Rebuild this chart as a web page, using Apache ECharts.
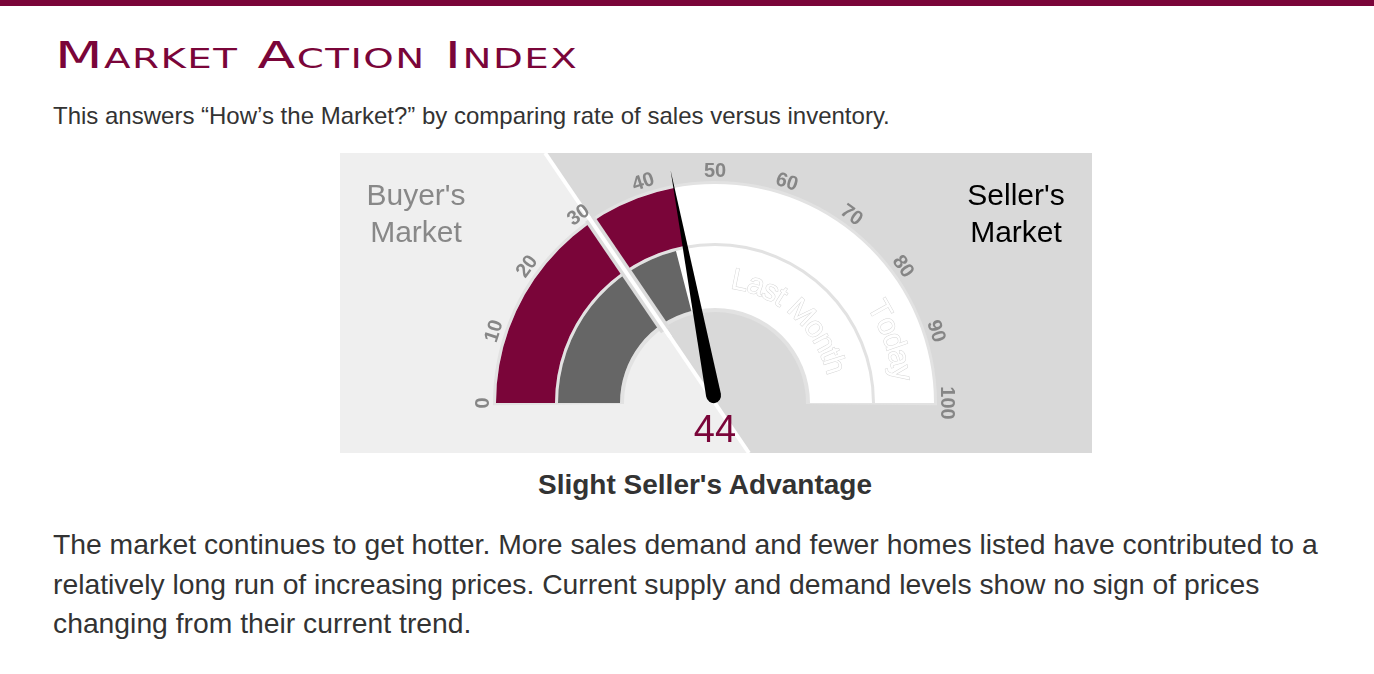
<!DOCTYPE html>
<html lang="en">
<head>
<meta charset="utf-8">
<title>Market Action Index</title>
<script src="https://cdn.jsdelivr.net/npm/echarts@6/dist/echarts.min.js"></script>
<style>
    body {
        margin: 0;
        background: #fff;
        font-family: "Liberation Sans", Arial, sans-serif;
        color: #333;
    }
    #topbar {
        position: absolute;
        left: 0; top: 0;
        width: 1374px; height: 6px;
        background: #7a0539;
    }
    #title {
        position: absolute;
        left: 55px; top: 34px;
        margin: 0;
        font-family: "DejaVu Sans", sans-serif;
        font-weight: normal;
        font-variant: small-caps;
        font-size: 37px;
        letter-spacing: 1px;
        color: #7a0539;
        white-space: nowrap;
        transform: scaleX(1.49);
        transform-origin: left top;
    }
    #intro {
        position: absolute;
        left: 53px; top: 102px;
        margin: 0;
        font-size: 24px;
        white-space: nowrap;
    }
    #chart {
        position: absolute;
        left: 340px; top: 153px;
        width: 752px; height: 300px;
    }
    #verdict {
        position: absolute;
        left: 340px; top: 469px;
        width: 730px;
        margin: 0;
        text-align: center;
        font-weight: bold;
        font-size: 28px;
        color: #333;
    }
    #summary {
        position: absolute;
        left: 53px; top: 525px;
        margin: 0;
        font-size: 28.3px;
        line-height: 39.5px;
        white-space: nowrap;
    }
</style>
</head>
<body>

<div id="topbar"></div>
<h2 id="title">Market Action Index</h2>
<p id="intro">This answers “How’s the Market?” by comparing rate of sales versus inventory.</p>

<div id="chart"></div>

<p id="verdict">Slight Seller's Advantage</p>
<p id="summary">The market continues to get hotter. More sales demand and fewer homes listed have contributed to a<br>relatively long run of increasing prices. Current supply and demand levels show no sign of prices<br>changing from their current trend.</p>

<script>
    // values
    var todayValue = [44];
    var lastMonthValue = [42];
    var splitValue = 31;          // buyer / seller boundary
    var axisMin = 0;
    var axisMax = 100;
    var sideLabels = ["Buyer's\nMarket", "Seller's\nMarket"];
    var ringLabels = ['Last Month', 'Today'];

    var maroon = '#7a0539';
    var W = 752, H = 300;
    var cx = 375, cy = 250;

    var myChart = echarts.init(document.getElementById('chart'));

    // angle (radians, math convention) of a value on the half circle
    function valueAngle(v) {
        return Math.PI * (1 - (v - axisMin) / (axisMax - axisMin));
    }

    // the boundary line goes through the centre
    var a = valueAngle(splitValue);
    var dirX = Math.cos(a), dirY = -Math.sin(a);
    function xAtY(y) {
        return cx + (y - cy) * dirX / dirY;
    }
    var topX = xAtY(0), botX = xAtY(H);

    var measureCtx = document.createElement('canvas').getContext('2d');

    // letters laid along an arc, reading clockwise
    function arcText(str, R, midDeg, font) {
        measureCtx.font = font;
        var widths = [], total = 0;
        for (var i = 0; i < str.length; i++) {
            var w = measureCtx.measureText(str[i]).width;
            widths.push(w);
            total += w;
        }
        var start = midDeg * Math.PI / 180 + (total / 2) / R;
        var acc = 0, out = [];
        for (var j = 0; j < str.length; j++) {
            var t = start - (acc + widths[j] / 2) / R;
            acc += widths[j];
            if (str[j] === ' ') continue;
            out.push({
                type: 'text',
                x: cx + R * Math.cos(t),
                y: cy - R * Math.sin(t),
                rotation: t - Math.PI / 2,
                z: 3,
                silent: true,
                style: {
                    text: str[j],
                    font: font,
                    fill: '#ffffff',
                    stroke: '#d6d6d6',
                    lineWidth: 1,
                    align: 'center',
                    verticalAlign: 'middle'
                }
            });
        }
        return out;
    }

    var graphics = [
        {
            type: 'polygon', z: 0, silent: true,
            shape: { points: [[0, 0], [topX, 0], [botX, H], [0, H]] },
            style: { fill: '#efefef' }
        },
        {
            type: 'polygon', z: 0, silent: true,
            shape: { points: [[topX, 0], [W, 0], [W, H], [botX, H]] },
            style: { fill: '#d9d9d9' }
        },
        {
            type: 'line', z: 1, silent: true,
            shape: { x1: topX, y1: 0, x2: botX, y2: H },
            style: { stroke: '#ffffff', lineWidth: 4 }
        },
        {
            type: 'line', z: 3, silent: true,
            shape: {
                x1: cx + 88 * dirX, y1: cy + 88 * dirY,
                x2: cx + 223 * dirX, y2: cy + 223 * dirY
            },
            style: { stroke: '#dcdcdc', lineWidth: 11 }
        },
        {
            type: 'line', z: 3, silent: true,
            shape: {
                x1: cx + 80 * dirX, y1: cy + 80 * dirY,
                x2: cx + 230 * dirX, y2: cy + 230 * dirY
            },
            style: { stroke: '#ffffff', lineWidth: 4 }
        },
        {
            type: 'text', z: 3, silent: true,
            x: 76, y: 62,
            style: {
                text: sideLabels[0], font: '30px "Liberation Sans", Arial',
                fill: '#888888', align: 'center', verticalAlign: 'middle', lineHeight: 37
            }
        },
        {
            type: 'text', z: 3, silent: true,
            x: 676, y: 62,
            style: {
                text: sideLabels[1], font: '30px "Liberation Sans", Arial',
                fill: '#000000', align: 'center', verticalAlign: 'middle', lineHeight: 37
            }
        }
    ];
    graphics = graphics.concat(arcText(ringLabels[0], 124, 48, '30px "Liberation Sans", Arial'));
    graphics = graphics.concat(arcText(ringLabels[1], 188, 19.5, '30px "Liberation Sans", Arial'));

    var hidden = {
        axisTick: { show: false },
        splitLine: { show: false, length: 0, distance: 0 },
        axisLabel: { show: false },
        pointer: { show: false },
        anchor: { show: false },
        title: { show: false },
        detail: { show: false }
    };

    function gauge(extra) {
        return Object.assign({
            type: 'gauge',
            center: [cx, cy],
            startAngle: 180,
            endAngle: 0,
            min: axisMin,
            max: axisMax,
            splitNumber: 10,
            animation: false
        }, hidden, extra);
    }

    var option = {
        graphic: { elements: graphics },
        series: [
            // pale rim round both rings
            gauge({
                z: 2,
                radius: 222,
                startAngle: 180.6,
                endAngle: -0.6,
                axisLine: { lineStyle: { width: 131, color: [[1, '#e2e2e2']] } },
                data: [{ value: 0 }]
            }),
            // today ring
            gauge({
                z: 2,
                radius: 219,
                axisLine: { lineStyle: { width: 59, color: [[1, '#ffffff']] } },
                progress: { show: true, width: 59, itemStyle: { color: maroon } },
                data: todayValue.map(function (v) { return { value: v }; })
            }),
            // last month ring
            gauge({
                z: 2,
                radius: 157,
                axisLine: { lineStyle: { width: 62, color: [[1, '#ffffff']] } },
                progress: { show: true, width: 62, itemStyle: { color: '#666666' } },
                data: lastMonthValue.map(function (v) { return { value: v }; })
            }),
            // tick labels
            gauge({
                z: 4,
                radius: 219,
                startAngle: 180.0001,
                axisLine: { show: false },
                axisLabel: {
                    show: true,
                    distance: -13,
                    rotate: 'tangential',
                    color: '#868686',
                    fontSize: 20,
                    fontWeight: 'bold',
                    fontFamily: '"Liberation Sans", Arial'
                },
                data: [{ value: 0 }]
            }),
            // needle and value
            gauge({
                z: 5,
                radius: 219,
                axisLine: { show: false },
                pointer: {
                    show: true,
                    icon: 'path://M7,0 L14,200 A7,7 0 0 1 0,200 Z',
                    length: 237,
                    width: 15,
                    offsetCenter: [0, 0],
                    itemStyle: { color: '#000000' }
                },
                detail: {
                    show: true,
                    offsetCenter: [0, 29],
                    fontSize: 38,
                    fontWeight: 'normal',
                    fontFamily: '"Liberation Sans", Arial',
                    color: maroon,
                    formatter: '{value}'
                },
                data: todayValue.map(function (v) { return { value: v }; })
            })
        ]
    };

    myChart.setOption(option);
</script>

</body>
</html>
